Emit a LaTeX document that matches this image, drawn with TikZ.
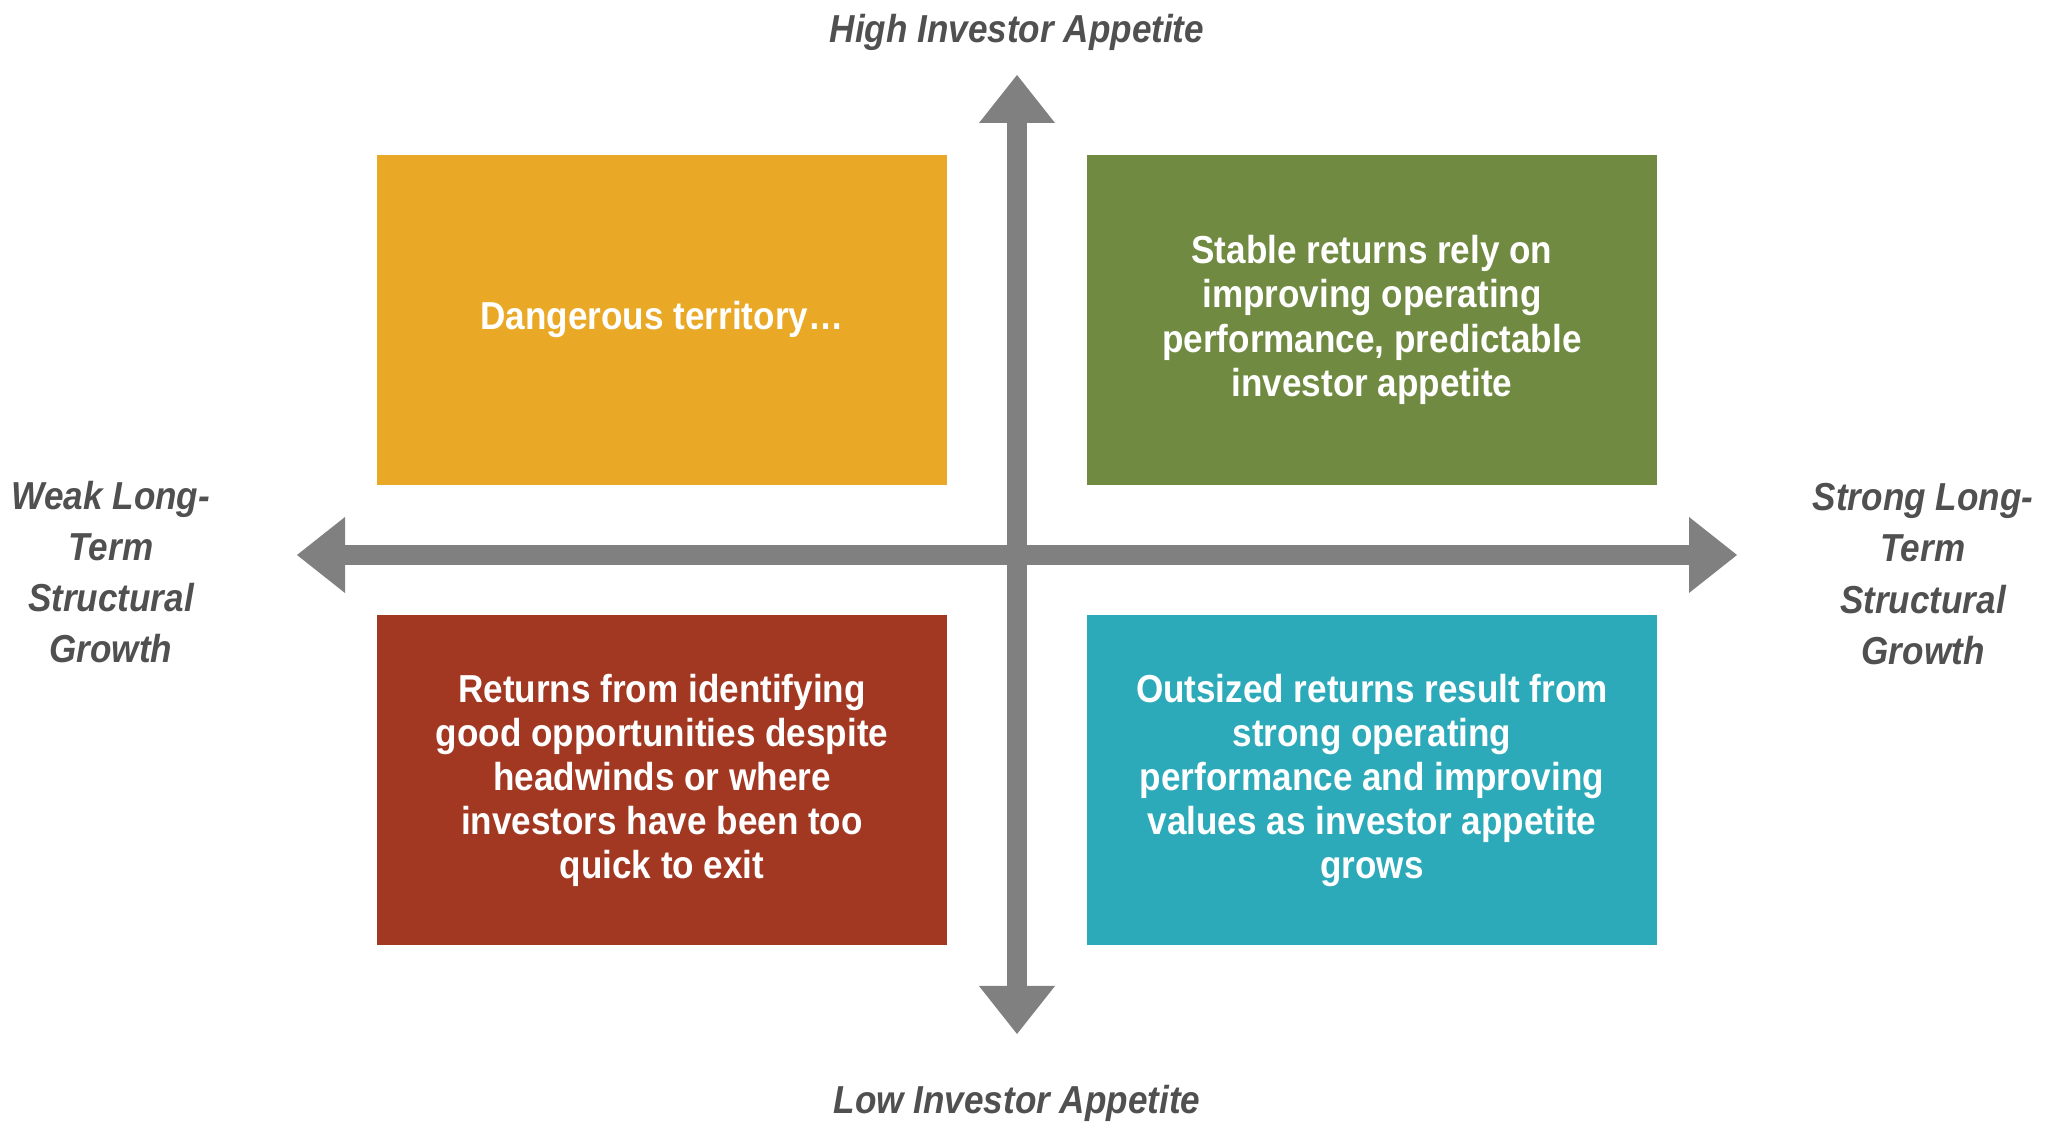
\documentclass[tikz,border=0pt]{standalone}
\usepackage{fontspec}
\setmainfont{Liberation Sans}[FakeStretch=0.9]
\usepackage[x11names, rgb]{xcolor}
\usepackage{tikz}
\usetikzlibrary{arrows.meta}

\definecolor{quadyellow}{RGB}{233,168,37}
\definecolor{quadgreen}{RGB}{113,138,65}
\definecolor{quadred}{RGB}{162,55,34}
\definecolor{quadteal}{RGB}{44,170,185}
\definecolor{axisgray}{RGB}{128,128,128}
\definecolor{labelgray}{RGB}{80,80,80}

\tikzset{
  quad/.style={minimum width=285bp, minimum height=165bp, inner sep=0pt, text=white,
    align=center, font=\bfseries\fontsize{19.5bp}{22.1bp}\selectfont},
  axislabel/.style={inner sep=0pt, text=labelgray, align=center,
    font=\bfseries\itshape\fontsize{19.5bp}{25.6bp}\selectfont},
  axistip/.tip={Triangle[length=24bp, width=38bp, line width=0pt]},
  axis/.style={draw=axisgray, line width=10bp, axistip-axistip},
}

\begin{document}
\begin{tikzpicture}[>=latex,line join=bevel,]
  \pgfsetlinewidth{1bp}
  \useasboundingbox (0bp,0bp) rectangle (1026.5bp,562bp);
%%
  % Coordinates: axis ends
  \coordinate (appetitehigh) at (508.5bp,524.5bp);
  \coordinate (appetitelow) at (508.5bp,45bp);
  \coordinate (growthweak) at (148.5bp,284.5bp);
  \coordinate (growthstrong) at (868.5bp,284.5bp);
  % Edge: appetitelow <-> appetitehigh
  \draw [axis] (appetitelow) -- (appetitehigh);
  % Edge: growthweak <-> growthstrong
  \draw [axis] (growthweak) -- (growthstrong);
%
  % Node: dangerous
  \node [quad, fill=quadyellow] (dangerous) at (331bp,402bp) {Dangerous territory…};
  % Node: stable
  \node [quad, fill=quadgreen] (stable) at (686bp,402bp) {Stable returns rely on\\improving operating\\performance, predictable\\investor appetite};
  % Node: identifying
  \node [quad, fill=quadred] (identifying) at (331bp,171.75bp) {Returns from identifying\\good opportunities despite\\headwinds or where\\investors have been too\\quick to exit};
  % Node: outsized
  \node [quad, fill=quadteal] (outsized) at (686bp,171.75bp) {Outsized returns result from\\strong operating\\performance and improving\\values as investor appetite\\grows};
%
  % Node: labels
  \node [axislabel, anchor=base] (high) at (508.5bp,540.5bp) {High Investor Appetite};
  \node [axislabel, anchor=base] (low) at (508.5bp,5.5bp) {Low Investor Appetite};
  \node [axislabel] (weak) at (55.5bp,276bp) {Weak Long-\\Term\\Structural\\Growth};
  \node [axislabel] (strong) at (961.5bp,275bp) {Strong Long-\\Term\\Structural\\Growth};
%
\end{tikzpicture}
\end{document}
